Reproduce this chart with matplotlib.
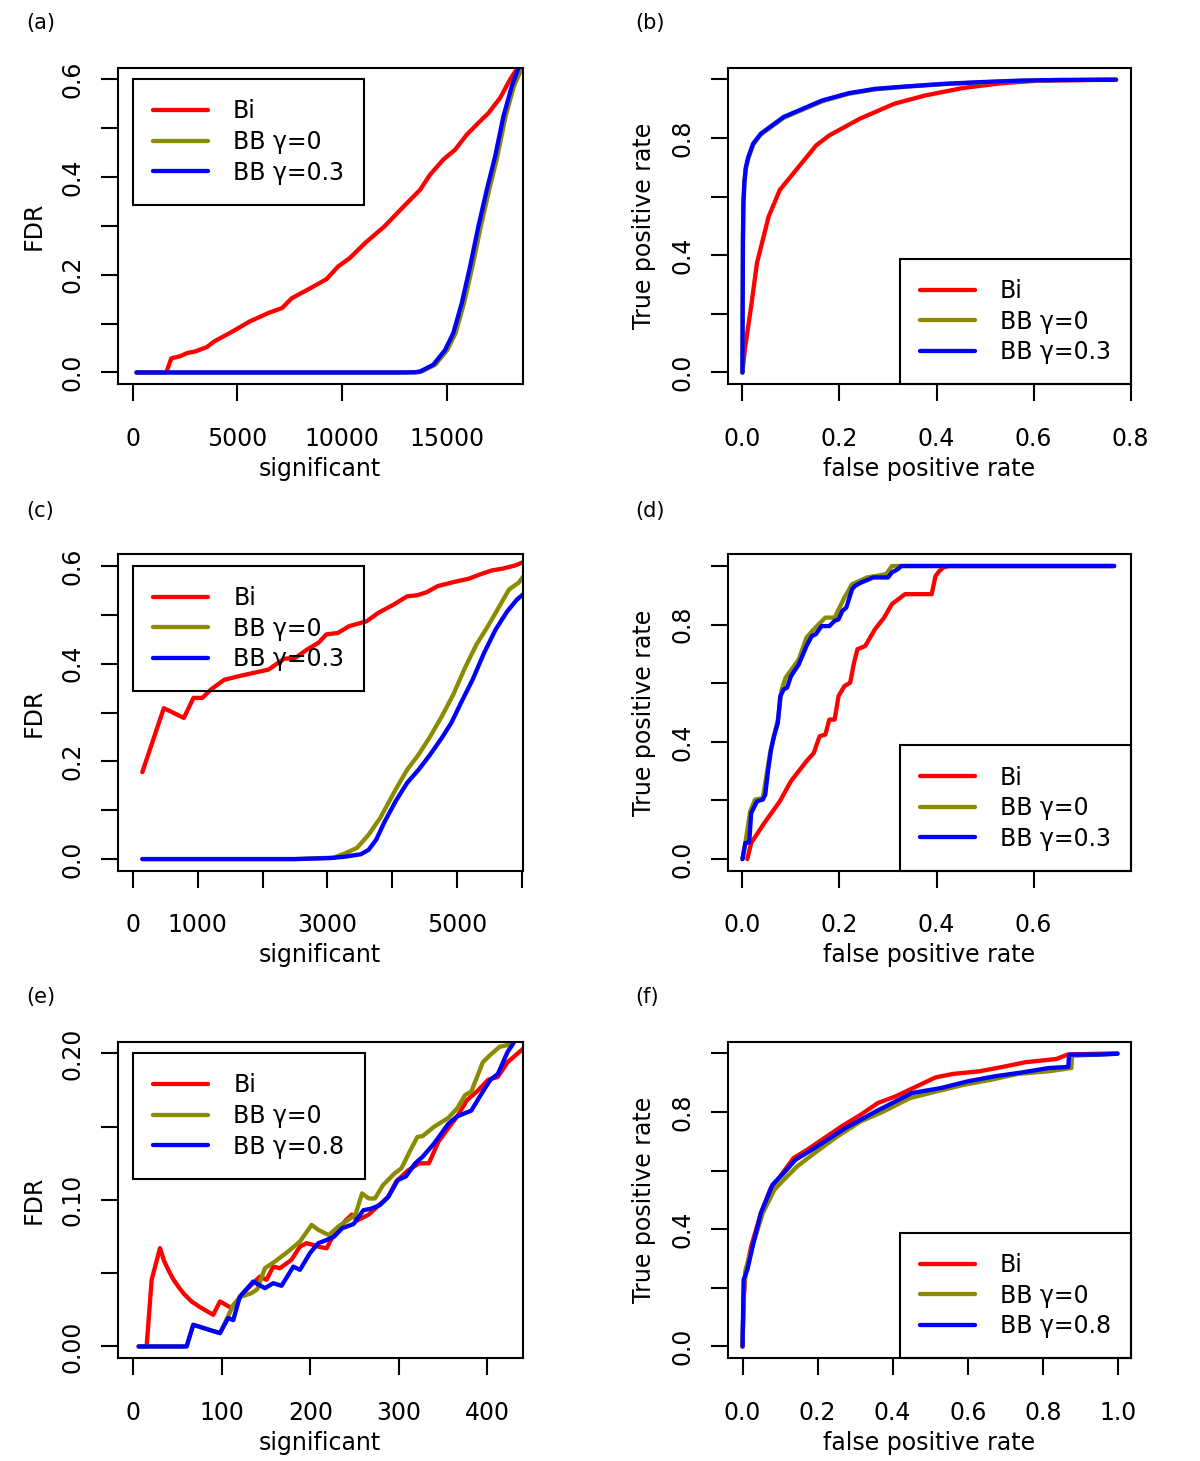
import matplotlib
matplotlib.use('Agg')
import matplotlib.pyplot as plt

plt.rcParams['font.family'] = ['DejaVu Sans']
FS = 17
RED = '#FF0000'
OLIVE = '#8B8B00'
BLUE = '#0000FF'
LW = 3.1

# ---------------- panel (a): FDR vs significant ----------------
a_bi_x = [180, 1603, 1843, 2248, 2617, 2986, 3539, 3907, 4644, 5566, 6487, 7133, 7593, 8330,
          9252, 9805, 10358, 11095, 12016, 12938, 13720, 14197, 14832, 15391, 15950, 16504,
          16982, 17541, 18019, 18258, 18500]
a_bi_y = [0, 0, 0.029, 0.033, 0.040, 0.043, 0.052, 0.064, 0.081, 0.104, 0.122, 0.132, 0.152, 0.169,
          0.191, 0.217, 0.234, 0.265, 0.299, 0.340, 0.374, 0.405, 0.436, 0.456, 0.487, 0.511,
          0.531, 0.562, 0.600, 0.616, 0.632]
a_bb0_x = [180, 13000, 13600, 13800, 14450, 15020, 15420, 15820, 16220, 16620, 17020, 17410,
           17800, 18200, 18578, 18700]
a_bb0_y = [0, 0, 0.0005, 0.002, 0.016, 0.046, 0.081, 0.142, 0.217, 0.299, 0.374, 0.442,
           0.524, 0.586, 0.623, 0.64]
a_bb3_x = [180, 13000, 13500, 13720, 14355, 14914, 15310, 15711, 16108, 16504, 16905, 17301,
           17698, 18099, 18415, 18500]
a_bb3_y = [0, 0, 0.0005, 0.002, 0.016, 0.046, 0.081, 0.142, 0.217, 0.299, 0.374, 0.442,
           0.524, 0.586, 0.623, 0.64]

# ---------------- panel (b): ROC ----------------
b_bi_x = [0, 0.005, 0.010, 0.018, 0.030, 0.054, 0.077, 0.116, 0.152, 0.179, 0.242, 0.313,
          0.376, 0.455, 0.534, 0.612, 0.77]
b_bi_y = [0, 0.08, 0.136, 0.226, 0.374, 0.532, 0.623, 0.702, 0.775, 0.809, 0.866, 0.917,
          0.945, 0.971, 0.987, 0.996, 0.999]
b_bb_x = [0, 0.0005, 0.001, 0.002, 0.004, 0.007, 0.012, 0.022, 0.038, 0.061, 0.085, 0.116,
          0.164, 0.219, 0.274, 0.337, 0.416, 0.494, 0.573, 0.652, 0.77]
b_bb0_y = [0, 0.24, 0.44, 0.57, 0.645, 0.695, 0.73, 0.777, 0.812, 0.84, 0.869, 0.891,
           0.925, 0.951, 0.966, 0.975, 0.984, 0.990, 0.995, 0.998, 0.999]
b_bb3_y = [0, 0.25, 0.45, 0.58, 0.65, 0.70, 0.735, 0.781, 0.815, 0.843, 0.872, 0.894,
           0.928, 0.953, 0.968, 0.976, 0.985, 0.991, 0.996, 0.998, 0.999]

# ---------------- panel (c): FDR vs significant ----------------
c_bi_x = [143, 475, 784, 933, 1070, 1200, 1408, 1616, 1854, 2092, 2329, 2507, 2686, 2864, 2983,
          3161, 3339, 3607, 3785, 4023, 4231, 4379, 4528, 4706, 4944, 5182, 5360, 5538, 5716,
          5894, 6025]
c_bi_y = [0.178, 0.309, 0.289, 0.330, 0.330, 0.347, 0.367, 0.374, 0.381, 0.388, 0.410, 0.412,
          0.429, 0.443, 0.460, 0.463, 0.477, 0.487, 0.504, 0.521, 0.538, 0.540, 0.546, 0.559,
          0.567, 0.574, 0.583, 0.591, 0.595, 0.601, 0.608]
c_bb0_x = [143, 2500, 3102, 3280, 3458, 3637, 3815, 4052, 4231, 4409, 4587, 4766, 4944, 5122,
           5300, 5479, 5657, 5805, 5954, 6049]
c_bb0_y = [0, 0, 0.003, 0.012, 0.023, 0.050, 0.084, 0.142, 0.183, 0.214, 0.251, 0.292, 0.337,
           0.391, 0.439, 0.477, 0.518, 0.552, 0.566, 0.583]
c_bb3_x = [143, 2500, 3042, 3280, 3518, 3637, 3755, 3874, 4052, 4231, 4409, 4587, 4766, 4914,
           5063, 5241, 5419, 5597, 5776, 5924, 6049]
c_bb3_y = [0, 0, 0.002, 0.005, 0.010, 0.019, 0.040, 0.074, 0.118, 0.156, 0.183, 0.214, 0.248,
           0.279, 0.320, 0.367, 0.422, 0.470, 0.507, 0.531, 0.545]

# ---------------- panel (d): ROC ----------------
d_bi_x = [0.010, 0.018, 0.045, 0.077, 0.100, 0.132, 0.147, 0.159, 0.171, 0.179, 0.190, 0.198,
          0.210, 0.222, 0.230, 0.237, 0.253, 0.273, 0.292, 0.308, 0.335, 0.390, 0.398, 0.406,
          0.414, 0.425, 0.766]
d_bi_y = [0, 0.055, 0.123, 0.197, 0.266, 0.334, 0.362, 0.419, 0.425, 0.476, 0.476, 0.556,
          0.590, 0.602, 0.670, 0.716, 0.727, 0.784, 0.824, 0.870, 0.904, 0.904, 0.966, 0.983,
          0.995, 1.0, 1.0]
d_bb0_x = [0, 0.006, 0.016, 0.026, 0.042, 0.057, 0.073, 0.081, 0.089, 0.116, 0.132, 0.147,
           0.171, 0.190, 0.210, 0.226, 0.257, 0.296, 0.308, 0.766]
d_bb0_y = [0, 0.055, 0.163, 0.203, 0.208, 0.363, 0.476, 0.579, 0.619, 0.681, 0.756, 0.784,
           0.824, 0.824, 0.892, 0.938, 0.961, 0.972, 1.0, 1.0]
d_bb3_x = [0, 0.006, 0.014, 0.018, 0.030, 0.042, 0.047, 0.053, 0.059, 0.065, 0.073, 0.078,
           0.085, 0.092, 0.100, 0.116, 0.132, 0.143, 0.151, 0.163, 0.179, 0.190, 0.198, 0.206,
           0.214, 0.226, 0.232, 0.245, 0.257, 0.269, 0.300, 0.308, 0.320, 0.327, 0.766]
d_bb3_y = [0, 0.055, 0.057, 0.157, 0.197, 0.203, 0.220, 0.305, 0.374, 0.419, 0.465, 0.556,
           0.579, 0.585, 0.624, 0.664, 0.727, 0.761, 0.767, 0.795, 0.795, 0.813, 0.818, 0.847,
           0.858, 0.921, 0.932, 0.944, 0.952, 0.961, 0.961, 0.978, 0.989, 1.0, 1.0]

# ---------------- panel (e): FDR vs significant ----------------
e_bi_x = [6, 15, 20.7, 30.1, 35, 39.5, 45, 50.8, 57, 65.8, 75, 90.3, 97.9, 111, 122.3, 133.6,
          143, 150.5, 158.1, 165.6, 178.7, 188.3, 195.7, 203.3, 210, 218.5, 227, 240, 247, 253,
          266, 275, 288, 297, 310, 323, 334, 345, 356, 366, 377, 390, 401, 412, 423, 443]
e_bi_y = [0, 0, 0.0455, 0.0671, 0.058, 0.0523, 0.046, 0.0409, 0.036, 0.0307, 0.027, 0.0216,
          0.0307, 0.0262, 0.0352, 0.0421, 0.0477, 0.0455, 0.0545, 0.0534, 0.0591, 0.0682,
          0.0705, 0.0693, 0.068, 0.067, 0.077, 0.086, 0.090, 0.086, 0.090, 0.095, 0.102,
          0.1125, 0.120, 0.125, 0.125, 0.140, 0.149, 0.157, 0.168, 0.175, 0.182, 0.184, 0.194,
          0.2045]
e_bb0_x = [6, 60.2, 67.7, 97.9, 107.2, 112.9, 122, 133.6, 140, 148.7, 160, 175, 188.3, 201.5,
           209, 221, 232, 242, 251, 258.5, 266, 273, 282, 295, 303, 314, 321, 327, 340, 356,
           366, 375, 382, 395, 403.5, 414, 423, 430]
e_bb0_y = [0, 0, 0.0148, 0.0091, 0.0209, 0.0284, 0.034, 0.0364, 0.039, 0.0534, 0.058, 0.0648,
           0.0716, 0.083, 0.0796, 0.076, 0.082, 0.086, 0.090, 0.1045, 0.101, 0.101, 0.110,
           0.118, 0.1216, 0.135, 0.143, 0.1436, 0.150, 0.156, 0.1625, 0.1716, 0.174, 0.194,
           0.199, 0.2045, 0.2057, 0.215]
e_bb8_x = [6, 60.2, 67.7, 97.9, 107.2, 112.9, 120.4, 135.5, 148.7, 158.1, 167.5, 180.8, 188.3,
           199.6, 209, 218.5, 227, 236, 249, 260, 268.5, 279, 288, 299, 308, 318.6, 327, 340,
           356, 366, 382, 392.6, 403.5, 412, 423, 429.6, 435]
e_bb8_y = [0, 0, 0.0148, 0.0091, 0.0194, 0.018, 0.034, 0.0443, 0.0398, 0.0432, 0.0414, 0.0545,
           0.0523, 0.0637, 0.0705, 0.0727, 0.075, 0.0807, 0.0836, 0.093, 0.094, 0.0966, 0.102,
           0.1136, 0.116, 0.125, 0.1295, 0.1386, 0.152, 0.157, 0.161, 0.1716, 0.182, 0.186,
           0.201, 0.207, 0.215]

# ---------------- panel (f): ROC ----------------
f_bi_x = [0, 0.003, 0.008, 0.023, 0.049, 0.075, 0.100, 0.136, 0.172, 0.212, 0.264, 0.315,
          0.361, 0.407, 0.458, 0.514, 0.560, 0.631, 0.693, 0.754, 0.836, 0.866, 0.948, 0.999]
f_bi_y = [0, 0.159, 0.250, 0.341, 0.455, 0.540, 0.580, 0.643, 0.671, 0.706, 0.751, 0.791,
          0.831, 0.853, 0.884, 0.918, 0.930, 0.939, 0.954, 0.970, 0.981, 0.996, 0.999, 1.0]
f_bb0_x = [0, 0.003, 0.008, 0.029, 0.054, 0.085, 0.110, 0.146, 0.192, 0.253, 0.315, 0.376,
           0.447, 0.519, 0.590, 0.662, 0.733, 0.815, 0.876, 0.878, 0.948, 0.999]
f_bb0_y = [0, 0.17, 0.262, 0.353, 0.455, 0.535, 0.569, 0.615, 0.660, 0.717, 0.768, 0.802,
           0.848, 0.871, 0.893, 0.910, 0.930, 0.939, 0.950, 0.992, 0.996, 0.999]
f_bb8_x = [0, 0.003, 0.013, 0.029, 0.049, 0.080, 0.110, 0.141, 0.192, 0.274, 0.355, 0.452,
           0.529, 0.601, 0.672, 0.744, 0.815, 0.868, 0.870, 0.948, 0.999]
f_bb8_y = [0, 0.228, 0.262, 0.353, 0.455, 0.552, 0.592, 0.637, 0.677, 0.745, 0.802, 0.865,
           0.882, 0.905, 0.922, 0.935, 0.950, 0.954, 0.996, 0.996, 0.999]

labels_03 = ['Bi', 'BB \u03b3=0', 'BB \u03b3=0.3']
labels_08 = ['Bi', 'BB \u03b3=0', 'BB \u03b3=0.8']
panel_tags = ['(a)', '(b)', '(c)', '(d)', '(e)', '(f)']

fig = plt.figure(figsize=(12, 14.61), dpi=100)
W, H = 1200.0, 1461.0
col_left = [117.5, 727.5]
col_width = [405.5, 403.5]
row_top = [67.7, 554.3, 1041.7]
ax_h = 316.5


def make_ax(col, row):
    l = col_left[col] / W
    b = 1 - (row_top[row] + ax_h) / H
    return fig.add_axes([l, b, col_width[col] / W, ax_h / H])


def style(ax, xlim, ylim, xt, xtl, yt, ytl, xlabel, ylabel):
    ax.set_xlim(xlim)
    ax.set_ylim(ylim)
    ax.set_xticks(xt, xtl)
    ax.set_yticks(yt, ytl)
    plt.setp(ax.get_yticklabels(), rotation=90, va='center')
    ax.tick_params(axis='both', direction='out', length=12.5, width=1.5, labelsize=FS, color='black')
    ax.tick_params(axis='x', pad=18)
    ax.tick_params(axis='y', pad=11.5)
    for s in ax.spines.values():
        s.set_linewidth(1.5)
    ax.set_xlabel(xlabel, fontsize=FS)
    ax.xaxis.label.set_va('center')
    ax.xaxis.set_label_coords(0.5, -0.267)
    ax.set_ylabel(ylabel, fontsize=FS)
    ax.yaxis.label.set_va('center')
    ax.yaxis.set_label_coords(-0.207, 0.5)


def draw(ax, series, labels):
    cols = [RED, OLIVE, BLUE]
    for (x, y), c, lab in zip(series, cols, labels):
        ax.plot(x, y, color=c, lw=LW, label=lab, solid_capstyle='round', solid_joinstyle='round')


def legend(ax, **kw):
    leg = ax.legend(fontsize=FS, frameon=True, fancybox=False, edgecolor='black',
                    framealpha=1,
                    borderpad=0.85, handlelength=2.33, handletextpad=1.06, labelspacing=0.28,
                    borderaxespad=0, **kw)
    frame = leg.get_frame()
    frame.set_linewidth(1.5)
    frame.set_facecolor('none')
    frame.set_edgecolor('black')
    return leg


yt6 = [0, 0.1, 0.2, 0.3, 0.4, 0.5, 0.6]
yt6l = ['0.0', '', '0.2', '', '0.4', '', '0.6']
ytr = [0, 0.2, 0.4, 0.6, 0.8, 1.0]
ytrl = ['0.0', '', '0.4', '', '0.8', '']

# (a)
ax = make_ax(0, 0)
draw(ax, [(a_bi_x, a_bi_y), (a_bb0_x, a_bb0_y), (a_bb3_x, a_bb3_y)], labels_03)
style(ax, (-726, 18634), (-0.024, 0.624), [0, 5000, 10000, 15000], ['0', '5000', '10000', '15000'],
      yt6, yt6l, 'significant', 'FDR')
legend(ax, loc='upper left', bbox_to_anchor=(0, 0.6), bbox_transform=ax.transData)

# (b)
ax = make_ax(1, 0)
draw(ax, [(b_bi_x, b_bi_y), (b_bb_x, b_bb0_y), (b_bb_x, b_bb3_y)], labels_03)
style(ax, (-0.0308, 0.8008), (-0.04, 1.04), [0, 0.2, 0.4, 0.6, 0.8], ['0.0', '0.2', '0.4', '0.6', '0.8'],
      ytr, ytrl, 'false positive rate', 'True positive rate')
legend(ax, loc='lower right', bbox_to_anchor=(1, 0))

# (c)
ax = make_ax(0, 1)
draw(ax, [(c_bi_x, c_bi_y), (c_bb0_x, c_bb0_y), (c_bb3_x, c_bb3_y)], labels_03)
style(ax, (-240, 6020), (-0.024, 0.624), [0, 1000, 2000, 3000, 4000, 5000, 6000],
      ['0', '1000', '', '3000', '', '5000', ''], yt6, yt6l, 'significant', 'FDR')
legend(ax, loc='upper left', bbox_to_anchor=(0, 0.6), bbox_transform=ax.transData)

# (d)
ax = make_ax(1, 1)
draw(ax, [(d_bi_x, d_bi_y), (d_bb0_x, d_bb0_y), (d_bb3_x, d_bb3_y)], labels_03)
style(ax, (-0.0308, 0.8008), (-0.04, 1.04), [0, 0.2, 0.4, 0.6], ['0.0', '0.2', '0.4', '0.6'],
      ytr, ytrl, 'false positive rate', 'True positive rate')
legend(ax, loc='lower right', bbox_to_anchor=(1, 0))

# (e)
ax = make_ax(0, 2)
draw(ax, [(e_bi_x, e_bi_y), (e_bb0_x, e_bb0_y), (e_bb8_x, e_bb8_y)], labels_08)
style(ax, (-17.9, 440.4), (-0.008, 0.208), [0, 100, 200, 300, 400], ['0', '100', '200', '300', '400'],
      [0, 0.05, 0.10, 0.15, 0.20], ['0.00', '', '0.10', '', '0.20'], 'significant', 'FDR')
legend(ax, loc='upper left', bbox_to_anchor=(0, 0.2), bbox_transform=ax.transData)

# (f)
ax = make_ax(1, 2)
draw(ax, [(f_bi_x, f_bi_y), (f_bb0_x, f_bb0_y), (f_bb8_x, f_bb8_y)], labels_08)
style(ax, (-0.04, 1.035), (-0.04, 1.04), [0, 0.2, 0.4, 0.6, 0.8, 1.0],
      ['0.0', '0.2', '0.4', '0.6', '0.8', '1.0'], ytr, ytrl, 'false positive rate', 'True positive rate')
legend(ax, loc='lower right', bbox_to_anchor=(1, 0))

# panel tags
tag_x = [26, 635]
tag_y = [23.5, 510.5, 997.5]
for i, t in enumerate(panel_tags):
    fig.text(tag_x[i % 2] / W, 1 - tag_y[i // 2] / H, t, fontsize=15, ha='left', va='center')

fig.savefig('out.png', dpi=100)
